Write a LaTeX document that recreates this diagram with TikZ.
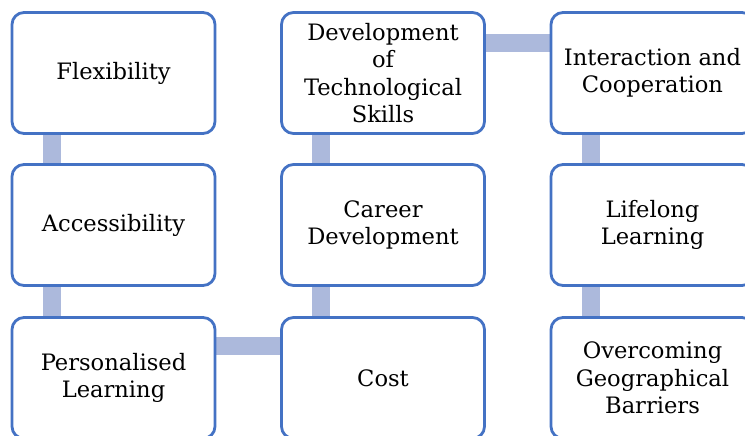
\documentclass[tikz,border=0pt]{standalone}
\usepackage{fontspec}
\setmainfont{DejaVu Serif}
\usetikzlibrary{backgrounds}
\definecolor{boxblue}{HTML}{4472C4}
\definecolor{connblue}{RGB}{172,185,220}
\begin{document}
\begin{tikzpicture}[x=1pt,y=-1pt,
  box/.style={draw=boxblue, line width=2.8pt, fill=white, rounded corners=12pt,
    minimum width=203pt, minimum height=121pt, align=center, inner sep=0pt,
    font=\fontsize{22.6}{27.5}\selectfont},
  conn/.style={draw=connblue, line width=18pt}]
\useasboundingbox (0,0) rectangle (745,436);
\node[box] (flex) at (113.5,73) {Flexibility};
\node[box] (acc) at (113.5,225) {Accessibility};
\node[box] (pers) at (113.5,378) {Personalised\\Learning};
\node[box] (dev) at (383,73) {Development\\of\\Technological\\Skills};
\node[box] (car) at (383,225) {Career\\Development};
\node[box] (cost) at (383,378) {Cost};
\node[box] (inter) at (652.5,73) {Interaction and\\Cooperation};
\node[box] (life) at (652.5,225) {Lifelong\\Learning};
\node[box] (over) at (652.5,378) {Overcoming\\Geographical\\Barriers};
\begin{scope}[on background layer]
\draw[conn] ([xshift=41pt]flex.south west) -- ([xshift=41pt]acc.north west);
\draw[conn] ([xshift=41pt]acc.south west) -- ([xshift=41pt]pers.north west);
\draw[conn] ([yshift=32pt]pers.east) -- ([yshift=32pt]cost.west);
\draw[conn] ([xshift=41pt]cost.north west) -- ([xshift=41pt]car.south west);
\draw[conn] ([xshift=41pt]car.north west) -- ([xshift=41pt]dev.south west);
\draw[conn] ([yshift=30pt]dev.east) -- ([yshift=30pt]inter.west);
\draw[conn] ([xshift=41pt]inter.south west) -- ([xshift=41pt]life.north west);
\draw[conn] ([xshift=41pt]life.south west) -- ([xshift=41pt]over.north west);
\end{scope}
\end{tikzpicture}
\end{document}
